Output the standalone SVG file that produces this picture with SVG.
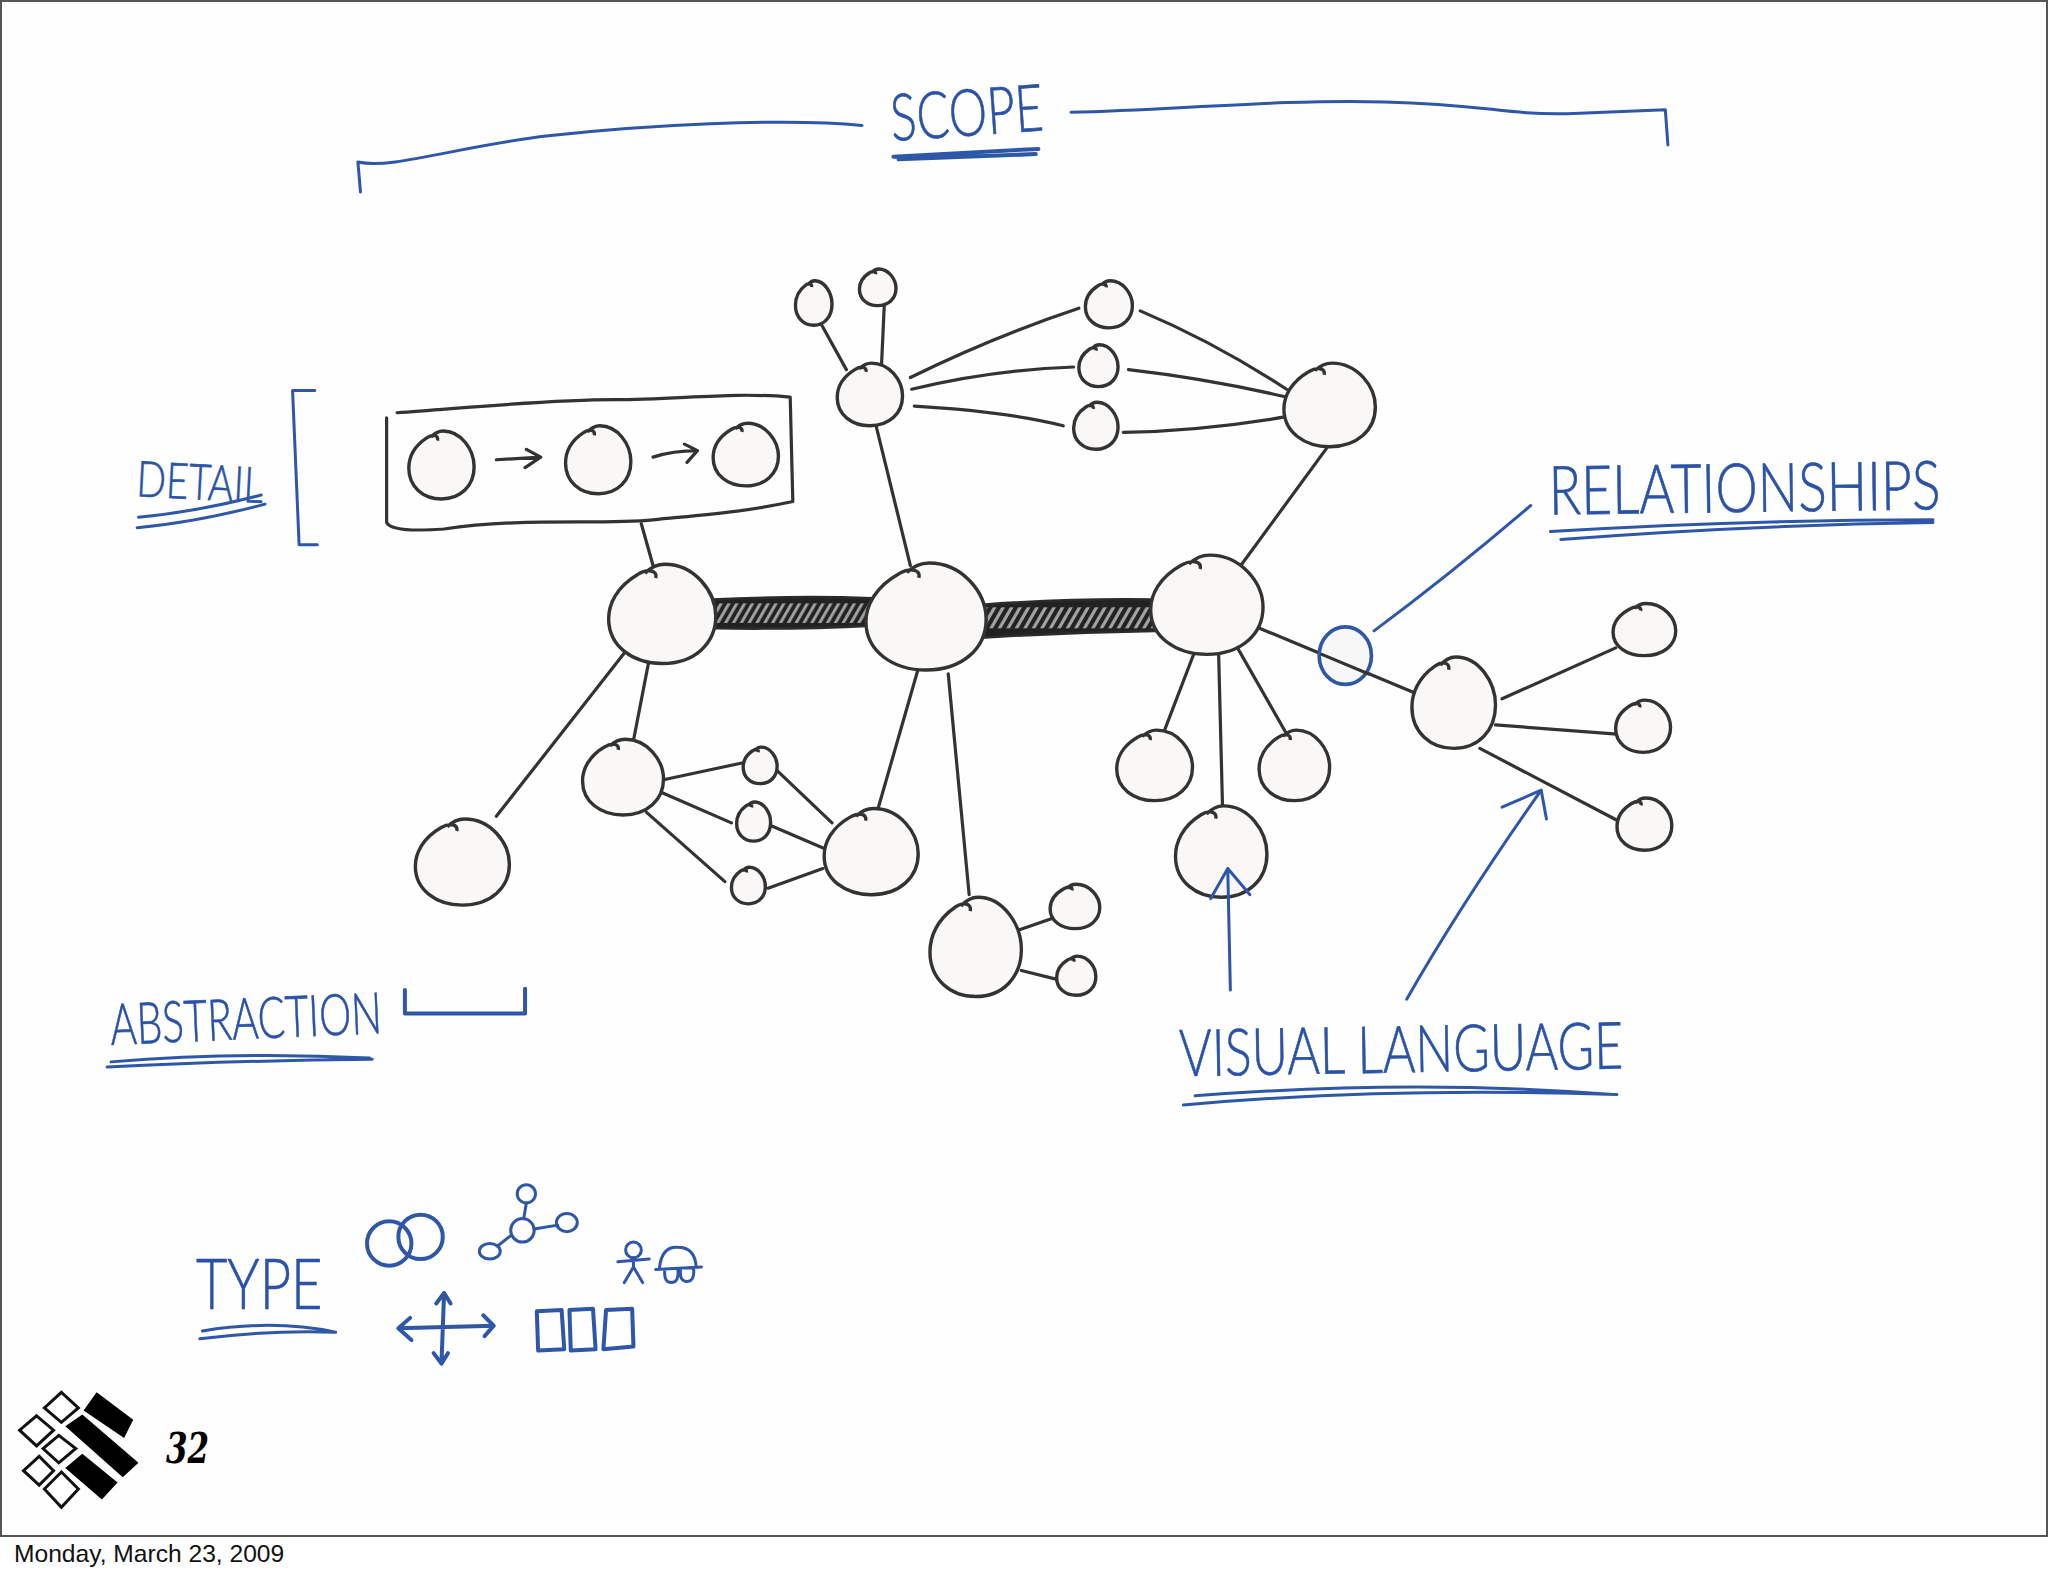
<svg xmlns="http://www.w3.org/2000/svg" width="2048" height="1576" viewBox="0 0 2048 1576">
<style>
.b{fill:#f9f8f7;stroke:#333;stroke-width:3.4}
.c{fill:none;stroke:#333;stroke-width:3.2;stroke-linecap:round;stroke-linejoin:round;vector-effect:non-scaling-stroke}
.u{fill:none;stroke:#2f57a8;stroke-width:3;stroke-linecap:round;stroke-linejoin:round;vector-effect:non-scaling-stroke}
.ut{fill:none;stroke:#2f57a8;stroke-width:4;stroke-linecap:round;stroke-linejoin:round;vector-effect:non-scaling-stroke}
.l{font-family:"Lato","Liberation Sans",sans-serif;font-weight:300;fill:#2a52a6;stroke:#2a52a6;stroke-width:.5}
.k{fill:#000}
.d{fill:#fff;stroke:#111;stroke-width:3;vector-effect:non-scaling-stroke}
</style>
<defs>
<path id="blob" vector-effect="non-scaling-stroke" d="M-.12,-.72C-.08,-.9 -.3,-.9 -.45,-.8C-.85,-.55 -1,-.2 -1,.1C-1,.65 -.55,1 0,1C.6,1 1,.6 1,.05C1,-.45 .6,-1 .05,-1C-.1,-1 -.2,-.95 -.32,-.82"/>
<pattern id="hatch1" y="458" width="6" height="23" patternUnits="userSpaceOnUse" patternTransform="skewX(-30)">
<rect width="6" height="23" fill="#222"/>
<rect x="1.6" y="4" width="2.6" height="15" fill="#a3a3a3"/>
</pattern>
<pattern id="hatch2" y="461" width="6.5" height="25" patternUnits="userSpaceOnUse" patternTransform="skewX(-30)">
<rect width="6.5" height="25" fill="#222"/>
<rect x="1.6" y="4" width="2.8" height="16" fill="#a3a3a3"/>
</pattern>
</defs>
<rect width="2048" height="1576" fill="#fff"/>
<rect x="1" y="1" width="2046" height="1535" fill="#fefefe" stroke="#555" stroke-width="2"/>
<text x="14" y="1562" font-family="'Liberation Sans',Arial,sans-serif" font-size="24.6" fill="#111">Monday, March 23, 2009</text>
<g transform="scale(1.30612)">
<g id="connectors">
<path d="M545,459Q610,456 668,458L668,479Q610,482 548,481Z" fill="url(#hatch1)" stroke="#2b2b2b" stroke-width="2"/>
<path d="M752,463Q820,458 884,459L884,483Q820,484 754,488Z" fill="url(#hatch2)" stroke="#2b2b2b" stroke-width="2"/>
<path class="c" d="M491,401L500,433M648,283L627,245M675,278L677,234M671,327L697,433M697,289Q760,258 826,236M698,298Q760,283 822,281M700,311Q770,315 814,326M873,238Q930,262 985,298M864,283Q925,290 985,304M860,331Q920,330 985,319M1018,340L950,433M478,500L380,625M497,505L485,567M508,597L569,584M507,607L560,630M495,622L555,675M595,590L637,630M590,632L632,650M588,680L630,665M703,512L672,620M726,516L742,685M780,712L806,703M782,743L810,750M915,498L892,558M933,500L936,618M948,497L984,560M962,480L1082,530M1150,535L1237,496M1145,555L1238,562M1133,573L1238,628"/>
<path class="c" d="M380,352L414,350M403,344L414,350L402,358M500,350Q515,345 534,345M524,340L534,345L526,354"/>
</g>
<g id="detail-box">
<path class="c" d="M296,320L296,400Q300,408 340,405C400,396 460,402 500,398S570,392 607,384L605,304C560,300 520,306 470,306S360,312 304,316"/>
</g>
<g id="n-a"><use href="#blob" class="b" transform="translate(507,470) scale(41,38)"/></g>
<g id="n-b"><use href="#blob" class="b" transform="translate(709,472) scale(46,41)"/></g>
<g id="n-c"><use href="#blob" class="b" transform="translate(924,463) scale(43,38)"/></g>
<g id="n-d"><use href="#blob" class="b" transform="translate(1113,538) scale(32,35)"/></g>
<g id="n-e"><use href="#blob" class="b" transform="translate(666,302) scale(25,24)"/></g>
<g id="n-f"><use href="#blob" class="b" transform="translate(623,232) scale(14,17)"/></g>
<g id="n-g"><use href="#blob" class="b" transform="translate(672,220) scale(14,14)"/></g>
<g id="n-h"><use href="#blob" class="b" transform="translate(849,233) scale(18,18)"/></g>
<g id="n-i"><use href="#blob" class="b" transform="translate(841,280) scale(15,16)"/></g>
<g id="n-j"><use href="#blob" class="b" transform="translate(839,326) scale(17,18)"/></g>
<g id="n-k"><use href="#blob" class="b" transform="translate(1018,310) scale(35,32)"/></g>
<g id="n-l"><use href="#blob" class="b" transform="translate(1259,482) scale(24,20)"/></g>
<g id="n-m"><use href="#blob" class="b" transform="translate(1258,556) scale(21,20)"/></g>
<g id="n-n"><use href="#blob" class="b" transform="translate(1259,631) scale(21,20)"/></g>
<g id="n-o"><use href="#blob" class="b" transform="translate(884,586) scale(29,27)"/></g>
<g id="n-p"><use href="#blob" class="b" transform="translate(935,652) scale(35,35)"/></g>
<g id="n-q"><use href="#blob" class="b" transform="translate(991,586) scale(27,27)"/></g>
<g id="n-r"><use href="#blob" class="b" transform="translate(354,660) scale(36,33)"/></g>
<g id="n-s"><use href="#blob" class="b" transform="translate(477,595) scale(31,29)"/></g>
<g id="n-t"><use href="#blob" class="b" transform="translate(582,586) scale(13,14)"/></g>
<g id="n-u"><use href="#blob" class="b" transform="translate(577,629) scale(13,15)"/></g>
<g id="n-v"><use href="#blob" class="b" transform="translate(573,678) scale(13,14)"/></g>
<g id="n-w"><use href="#blob" class="b" transform="translate(667,652) scale(36,33)"/></g>
<g id="n-x"><use href="#blob" class="b" transform="translate(747,725) scale(35,38)"/></g>
<g id="n-y"><use href="#blob" class="b" transform="translate(823,694) scale(19,17)"/></g>
<g id="n-z"><use href="#blob" class="b" transform="translate(824,747) scale(15,15)"/></g>
<g id="n-box1"><use href="#blob" class="b" transform="translate(338,356) scale(25,26)"/></g>
<g id="n-box2"><use href="#blob" class="b" transform="translate(458,352) scale(25,26)"/></g>
<g id="n-box3"><use href="#blob" class="b" transform="translate(571,348) scale(25,24)"/></g>

<g id="annotations">
<path class="u" d="M276,147L274,124C300,130 350,112 420,104S600,90 660,96"/>
<path class="u" d="M820,86C900,84 980,76 1060,78S1150,88 1200,87L1275,84L1277,111"/>
<text class="l" font-size="50" textLength="117" lengthAdjust="spacingAndGlyphs" transform="translate(683,108) rotate(-4)">SCOPE</text>
<path class="ut" d="M684,120L795,114M688,122L793,118"/>
<text class="l" font-size="38" textLength="97" lengthAdjust="spacingAndGlyphs" transform="translate(104,380) rotate(3)">DETAIL</text>
<path class="u" d="M106,396Q150,392 200,379M105,404Q150,400 203,386"/>
<path class="u" d="M241,299L224,299L229,417L243,417"/>
<text class="l" font-size="52" textLength="300" lengthAdjust="spacingAndGlyphs" transform="translate(1186,394) rotate(-.8)">RELATIONSHIPS</text>
<path class="u" d="M1187,407Q1330,398 1480,398M1195,413Q1340,402 1480,400"/>
<ellipse cx="1030" cy="502" rx="20" ry="22" fill="#f7f7f7" stroke="#2f57a8" stroke-width="2.8"/>
<path class="c" d="M1012,501L1048,516"/>
<path class="u" d="M1052,483Q1110,440 1172,387"/>
<text class="l" font-size="50" textLength="340" lengthAdjust="spacingAndGlyphs" transform="translate(903,824) rotate(-1)">VISUAL LANGUAGE</text>
<path class="u" d="M915,839Q1080,826 1235,838M906,846Q1060,832 1238,838"/>
<path class="u" d="M942,758L940,665M927,688L940,665L957,685"/>
<path class="u" d="M1077,765Q1120,690 1180,605M1150,618L1180,605L1184,627"/>
<text class="l" font-size="44" textLength="208" lengthAdjust="spacingAndGlyphs" transform="translate(85,800) rotate(-2.5)">ABSTRACTION</text>
<path class="u" d="M85,813Q180,805 283,810M82,817Q180,812 285,811"/>
<path class="ut" d="M310,758L310,776L402,776L402,757"/>
<text class="l" font-size="54" textLength="97" lengthAdjust="spacingAndGlyphs" transform="translate(150,1002)">TYPE</text>
<path class="u" d="M155,1019Q210,1010 257,1020M153,1025Q210,1018 257,1020"/>
<circle class="ut" cx="298" cy="952" r="17"/>
<circle class="ut" cx="322" cy="947" r="17"/>
<path class="u" d="M403,921L401,933M391,946L381,954M409,941L427,938"/>
<circle class="u" cx="400" cy="942" r="9"/>
<ellipse class="u" cx="403" cy="914" rx="7" ry="7"/>
<ellipse class="u" cx="375" cy="958" rx="8" ry="6"/>
<ellipse class="u" cx="434" cy="936" rx="8" ry="7"/>
<circle class="u" cx="485" cy="957" r="6"/>
<path class="u" d="M485,963L485,970M473,966L497,964M485,970L478,982M485,970L492,982"/>
<path class="u" d="M505,970Q507,954 519,955Q532,955 533,970M502,972L537,970M509,972Q508,982 514,982Q520,982 519,972M521,972Q520,982 527,981Q532,980 531,971"/>
<path class="ut" d="M305,1017L378,1015M314,1009L305,1017L315,1026M370,1007L378,1015L371,1023M340,990L338,1044M334,998L340,990L345,998M332,1036L338,1044L343,1036"/>
<path class="ut" d="M411,1004L430,1003L432,1033L412,1034ZM436,1003L454,1002L456,1033L437,1034ZM464,1003L484,1002L485,1031L462,1033Z"/>
</g>
<g id="logo">
<path class="d" d="M47,1066L60,1078L47,1089L34,1078Z"/>
<path class="d" d="M28,1084L41,1095L28,1107L15,1095Z"/>
<path class="d" d="M45,1099L58,1109L45,1120L33,1109Z"/>
<path class="d" d="M30,1115L41,1126L30,1137L18,1126Z"/>
<path class="d" d="M47,1127L60,1140L47,1154L34,1140Z"/>
<path class="k" d="M74,1066L102,1087L95,1101L64,1080ZM63,1083L106,1120L94,1131L50,1092ZM63,1113L90,1135L78,1148L50,1124Z"/>
<text x="127" y="1120" font-family="'DejaVu Serif',serif" font-size="33" font-weight="bold" font-style="italic" fill="#000" textLength="33" lengthAdjust="spacingAndGlyphs">32</text>
</g>
</g>
</svg>
